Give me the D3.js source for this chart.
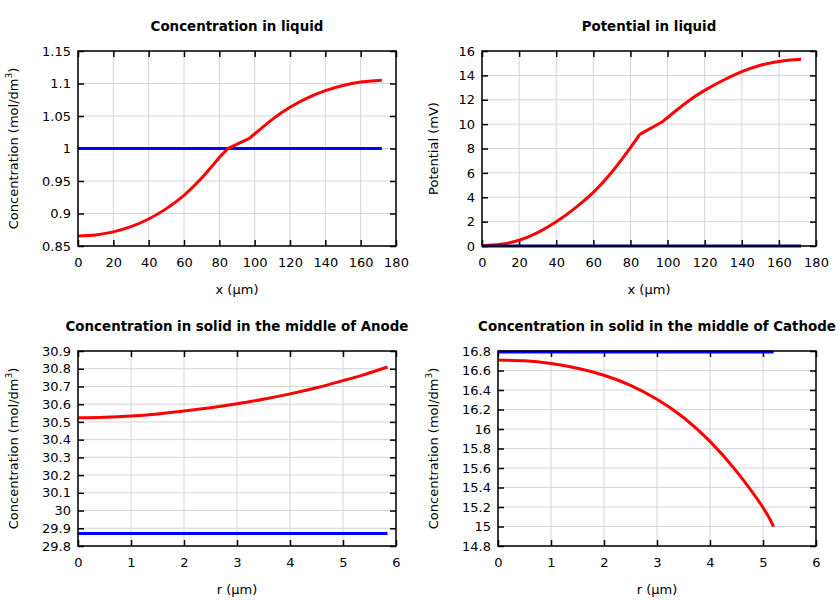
<!DOCTYPE html>
<html><head><meta charset="utf-8">
<script src="https://cdn.jsdelivr.net/npm/d3@7"></script>
<style>
body{margin:0;background:#fff;}
text{font-family:"DejaVu Sans",sans-serif;}
</style></head>
<body><svg id="c" width="840" height="600"></svg>
<script>
// Panel 1: Concentration in liquid
const liqX = [0,10,20,30,40,50,60,70,80,85,97,110,120,130,140,150,160,166,172];
const liqConc = [0.8654,0.867,0.8717,0.8797,0.8915,0.9075,0.928,0.9545,0.986,1.0003,1.0156,1.0449,1.0635,1.078,1.089,1.097,1.1023,1.104,1.105];
const liqConcInit = [1.0,1.0];
const liqConcInitX = [0,172];
// Panel 2: Potential in liquid
const liqPot = [0.02,0.14,0.47,1.1,1.99,3.09,4.4,6.07,8.07,9.16,10.17,11.76,12.77,13.6,14.3,14.83,15.13,15.26,15.32];
const liqPotInit = [0,0];
// x positions where the liquid profiles change slope (electrode/separator boundaries)
const liqKinks = [85,97];
// Panel 3: anode solid
const anodeR = [0,0.5,1,1.5,2,2.5,3,3.5,4,4.5,5,5.4,5.84];
const anodeConc = [30.523,30.526,30.533,30.545,30.561,30.58,30.602,30.628,30.658,30.693,30.733,30.767,30.81];
const anodeInit = [29.87,29.87];
const anodeInitR = [0,5.84];
// Panel 4: cathode solid
const cathR = [0,0.5,1,1.5,2,2.5,3,3.5,4,4.5,5,5.2];
const cathConc = [16.708,16.699,16.671,16.623,16.551,16.448,16.305,16.118,15.873,15.565,15.195,14.998];
const cathInit = [16.79,16.79];
const cathInitR = [0,5.2];

const titles = ["Concentration in liquid","Potential in liquid","Concentration in solid in the middle of Anode","Concentration in solid in the middle of Cathode"];
const xLabels = ["x (µm)","x (µm)","r (µm)","r (µm)"];
const yLabels = ["conc","Potential (mV)","conc","conc"];
const xDomains = [[0,180],[0,180],[0,6],[0,6]];
const yDomains = [[0.85,1.15],[0,16],[29.8,30.9],[14.8,16.8]];
const xTicks = [d3.range(0,181,20),d3.range(0,181,20),d3.range(0,7,1),d3.range(0,7,1)];
const yTicks = [d3.range(0,7).map(i=>+(0.85+i*0.05).toFixed(2)), d3.range(0,17,2), d3.range(0,12).map(i=>+(29.8+i*0.1).toFixed(1)), d3.range(0,11).map(i=>+(14.8+i*0.2).toFixed(1))];

const panels = [
  {box:[78,51,396,246], series:[{x:liqConcInitX,y:liqConcInit,c:"#0000ff"},{x:liqX,y:liqConc,c:"#ff0000",k:liqKinks}]},
  {box:[482,51,816,246], series:[{x:liqX,y:liqPot,c:"#ff0000",k:liqKinks},{x:liqConcInitX,y:liqPotInit,c:"#0000a0"}]},
  {box:[78,351,396,546], series:[{x:anodeR,y:anodeConc,c:"#ff0000"},{x:anodeInitR,y:anodeInit,c:"#0000ff"}]},
  {box:[498,351,816,546], series:[{x:cathR,y:cathConc,c:"#ff0000"},{x:cathInitR,y:cathInit,c:"#0000ff"}]}
];

const svg = d3.select("#c");
const fmt = v => String(+v.toFixed(3));

panels.forEach((p,i)=>{
  const [x0,y0,x1,y1] = p.box;
  const xs = d3.scaleLinear().domain(xDomains[i]).range([x0,x1]);
  const ys = d3.scaleLinear().domain(yDomains[i]).range([y1,y0]);
  const g = svg.append("g");
  // grid
  g.append("g").selectAll("line").data(xTicks[i]).join("line")
    .attr("x1",d=>xs(d)).attr("x2",d=>xs(d)).attr("y1",y0).attr("y2",y1)
    .attr("stroke","#d4d4d4").attr("stroke-width",1);
  g.append("g").selectAll("line").data(yTicks[i]).join("line")
    .attr("y1",d=>ys(d)).attr("y2",d=>ys(d)).attr("x1",x0).attr("x2",x1)
    .attr("stroke","#d4d4d4").attr("stroke-width",1);
  // axes with inward ticks
  const ax = (gen, tx, ty, ticks, labels, pad) => {
    const a = g.append("g").attr("transform",`translate(${tx},${ty})`)
      .call(gen.tickValues(ticks).tickSize(-6).tickPadding(labels?pad:0).tickFormat(labels?fmt:()=>""));
    a.select(".domain").remove();
    a.selectAll(".tick line").attr("stroke","#000").attr("stroke-width",1.5);
    a.selectAll("text").attr("font-size",13).attr("fill","#000").attr("font-family","DejaVu Sans");
    return a;
  };
  ax(d3.axisBottom(xs), 0, y1, xTicks[i], true, 12);
  ax(d3.axisTop(xs), 0, y0, xTicks[i], false, 0);
  ax(d3.axisLeft(ys), x0, 0, yTicks[i], true, 7);
  ax(d3.axisRight(ys), x1, 0, yTicks[i], false, 0);
  // series
  const clipId = "clip"+i;
  svg.append("clipPath").attr("id",clipId).append("rect").attr("x",x0-2).attr("y",y0-2).attr("width",x1-x0+4).attr("height",y1-y0+4);
  const line = d3.line().x(d=>xs(d[0])).y(d=>ys(d[1])).curve(d3.curveNatural);
  p.series.forEach(s=>{
    const pts = s.x.map((xv,k)=>[xv,s.y[k]]);
    // split into smooth pieces at kinks
    const bounds = [-Infinity, ...(s.k||[]), Infinity];
    let d = "";
    for (let b=0;b<bounds.length-1;b++){
      const seg = pts.filter(q=>q[0]>=bounds[b] && q[0]<=bounds[b+1]);
      if (seg.length>1) d += line(seg);
    }
    g.append("path").attr("d", d)
      .attr("fill","none").attr("stroke",s.c).attr("stroke-width",3)
      .attr("stroke-linejoin","round").attr("clip-path",`url(#${clipId})`);
  });
  // border
  g.append("rect").attr("x",x0).attr("y",y0).attr("width",x1-x0).attr("height",y1-y0)
    .attr("fill","none").attr("stroke","#000").attr("stroke-width",1.5);
  // title
  g.append("text").attr("x",(x0+x1)/2).attr("y",y0-20)
    .attr("text-anchor","middle").attr("font-size",13.4).attr("font-weight","bold").text(titles[i]);
  // x label
  g.append("text").attr("x",(x0+x1)/2).attr("y",y1+48).attr("text-anchor","middle").attr("font-size",13).text(xLabels[i]);
  // y label
  const yl = g.append("text").attr("transform",`translate(${x0 - (i==1?44:60)},${(y0+y1)/2}) rotate(-90)`)
    .attr("text-anchor","middle").attr("font-size",13);
  if (yLabels[i]==="conc"){
    yl.append("tspan").text("Concentration (mol/dm");
    yl.append("tspan").attr("font-size",9).attr("dy",-6).text("3");
    yl.append("tspan").attr("dy",6).text(")");
  } else yl.text(yLabels[i]);
});
</script></body></html>
